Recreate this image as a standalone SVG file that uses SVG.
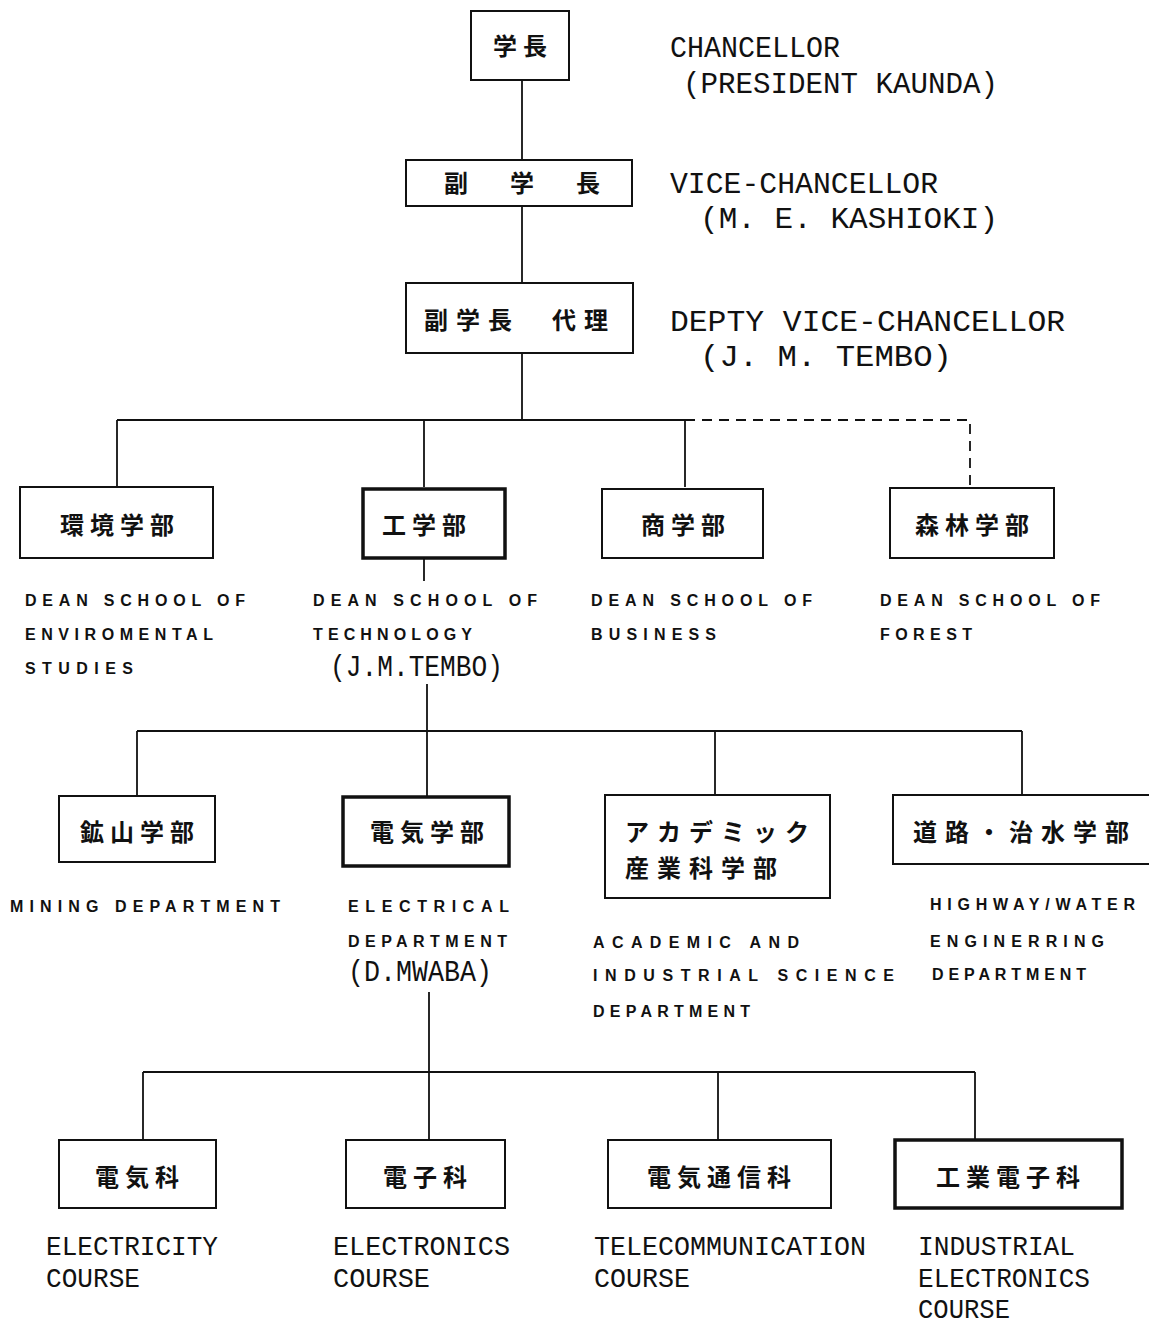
<svg xmlns="http://www.w3.org/2000/svg" width="1149" height="1327" viewBox="0 0 1149 1327">
<style>
.box{fill:#fff;stroke:#111;stroke-width:2}
.thick{fill:#fff;stroke:#111;stroke-width:3.5}
.ln{stroke:#111;stroke-width:1.8;fill:none}
.dash{stroke:#111;stroke-width:1.8;fill:none;stroke-dasharray:10,7}
.jp{font-family:"Noto Sans CJK JP","Noto Sans CJK SC",sans-serif;font-weight:bold;font-size:24px;fill:#111;text-anchor:middle;letter-spacing:6px}
.jpl{font-family:"Noto Sans CJK JP","Noto Sans CJK SC",sans-serif;font-weight:bold;font-size:24px;fill:#111;letter-spacing:8px}
.en{font-family:"Liberation Mono",monospace;font-size:30px;fill:#111}
.sm{font-family:"Liberation Sans",Arial,sans-serif;font-weight:bold;font-size:16px;fill:#111}
.nm{font-family:"Liberation Mono",monospace;font-size:30px;fill:#111}
.cr{font-family:"Liberation Mono",monospace;font-size:28px;fill:#111}
</style>
<rect width="1149" height="1327" fill="#fff"/>
<g id="connectors">
<line class="ln" x1="522" y1="80" x2="522" y2="160"/>
<line class="ln" x1="522" y1="206" x2="522" y2="283"/>
<line class="ln" x1="522" y1="353" x2="522" y2="420"/>
<line class="ln" x1="117" y1="420" x2="685" y2="420"/>
<path class="dash" d="M685 420 H970 V487"/>
<line class="ln" x1="117" y1="420" x2="117" y2="487"/>
<line class="ln" x1="424" y1="420" x2="424" y2="487"/>
<line class="ln" x1="685" y1="420" x2="685" y2="487"/>
<line class="ln" x1="424" y1="558" x2="424" y2="581"/>
<line class="ln" x1="427" y1="684" x2="427" y2="731"/>
<line class="ln" x1="137" y1="731" x2="1022" y2="731"/>
<line class="ln" x1="137" y1="731" x2="137" y2="796"/>
<line class="ln" x1="427" y1="731" x2="427" y2="796"/>
<line class="ln" x1="715" y1="731" x2="715" y2="795"/>
<line class="ln" x1="1022" y1="731" x2="1022" y2="795"/>
<line class="ln" x1="429" y1="992" x2="429" y2="1072"/>
<line class="ln" x1="143" y1="1072" x2="975" y2="1072"/>
<line class="ln" x1="143" y1="1072" x2="143" y2="1140"/>
<line class="ln" x1="429" y1="1072" x2="429" y2="1140"/>
<line class="ln" x1="718" y1="1072" x2="718" y2="1140"/>
<line class="ln" x1="975" y1="1072" x2="975" y2="1140"/>
</g>
<g id="chancellor">
<rect class="box" x="471" y="11" width="98" height="69"/>
<text class="jp" x="523" y="55">学長</text>
<text class="en" x="670" y="57" textLength="170" lengthAdjust="spacingAndGlyphs">CHANCELLOR</text>
<text class="en" x="683" y="93" textLength="315" lengthAdjust="spacingAndGlyphs">(PRESIDENT KAUNDA)</text>
</g>
<g id="vice-chancellor">
<rect class="box" x="406" y="160" width="226" height="46"/>
<text class="jpl" x="444" y="192" style="letter-spacing:42px">副学長</text>
<text class="en" x="670" y="193" textLength="268" lengthAdjust="spacingAndGlyphs">VICE-CHANCELLOR</text>
<text class="en" x="700" y="228" textLength="298" lengthAdjust="spacingAndGlyphs">(M. E. KASHIOKI)</text>
</g>
<g id="deputy">
<rect class="box" x="406" y="283" width="227" height="70"/>
<text class="jpl" x="424" y="329" letter-spacing="2">副学長　代理</text>
<text class="en" x="670" y="331" textLength="395" lengthAdjust="spacingAndGlyphs">DEPTY VICE-CHANCELLOR</text>
<text class="en" x="700" y="366" textLength="252" lengthAdjust="spacingAndGlyphs">(J. M. TEMBO)</text>
</g>
<g id="env">
<rect class="box" x="20" y="487" width="193" height="71"/>
<text class="jp" x="120" y="534">環境学部</text>
<text class="sm" x="25" y="606" textLength="220">DEAN SCHOOL OF</text>
<text class="sm" x="25" y="640" textLength="188">ENVIROMENTAL</text>
<text class="sm" x="25" y="674" textLength="108">STUDIES</text>
</g>
<g id="tech">
<rect class="thick" x="363" y="489" width="142" height="69"/>
<text class="jp" x="427" y="534">工学部</text>
<text class="sm" x="313" y="606" textLength="224">DEAN SCHOOL OF</text>
<text class="sm" x="313" y="640" textLength="159">TECHNOLOGY</text>
<text class="nm" x="330" y="676" textLength="173" lengthAdjust="spacingAndGlyphs">(J.M.TEMBO)</text>
</g>
<g id="business">
<rect class="box" x="602" y="489" width="161" height="69"/>
<text class="jp" x="686" y="534">商学部</text>
<text class="sm" x="591" y="606" textLength="221">DEAN SCHOOL OF</text>
<text class="sm" x="591" y="640" textLength="125">BUSINESS</text>
</g>
<g id="forest">
<rect class="box" x="890" y="488" width="164" height="70"/>
<text class="jp" x="975" y="534">森林学部</text>
<text class="sm" x="880" y="606" textLength="220">DEAN SCHOOL OF</text>
<text class="sm" x="880" y="640" textLength="92">FOREST</text>
</g>
<g id="mining">
<rect class="box" x="59" y="796" width="156" height="66"/>
<text class="jp" x="140" y="841">鉱山学部</text>
<text class="sm" x="10" y="912" textLength="270">MINING DEPARTMENT</text>
</g>
<g id="electrical">
<rect class="thick" x="343" y="797" width="166" height="69"/>
<text class="jp" x="430" y="841">電気学部</text>
<text class="sm" x="348" y="912" textLength="161">ELECTRICAL</text>
<text class="sm" x="348" y="947" textLength="159">DEPARTMENT</text>
<text class="nm" x="348" y="981" textLength="144" lengthAdjust="spacingAndGlyphs">(D.MWABA)</text>
</g>
<g id="academic">
<rect class="box" x="605" y="795" width="225" height="103"/>
<text class="jpl" x="625" y="841">アカデミック</text>
<text class="jpl" x="625" y="877">産業科学部</text>
<text class="sm" x="593" y="948" textLength="206">ACADEMIC  AND</text>
<text class="sm" x="593" y="981" textLength="301">INDUSTRIAL  SCIENCE</text>
<text class="sm" x="593" y="1017" textLength="157">DEPARTMENT</text>
</g>
<g id="highway">
<rect class="box" x="893" y="795" width="260" height="69"/>
<text class="jpl" x="913" y="841">道路・治水学部</text>
<text class="sm" x="930" y="910" textLength="205">HIGHWAY/WATER</text>
<text class="sm" x="930" y="947" textLength="174">ENGINERRING</text>
<text class="sm" x="932" y="980" textLength="154">DEPARTMENT</text>
</g>
<g id="electricity">
<rect class="box" x="59" y="1140" width="157" height="68"/>
<text class="jp" x="140" y="1186">電気科</text>
<text class="cr" x="46" y="1255" textLength="172" lengthAdjust="spacingAndGlyphs">ELECTRICITY</text>
<text class="cr" x="46" y="1287" textLength="94" lengthAdjust="spacingAndGlyphs">COURSE</text>
</g>
<g id="electronics">
<rect class="box" x="346" y="1140" width="159" height="68"/>
<text class="jp" x="428" y="1186">電子科</text>
<text class="cr" x="333" y="1255" textLength="177" lengthAdjust="spacingAndGlyphs">ELECTRONICS</text>
<text class="cr" x="333" y="1287" textLength="97" lengthAdjust="spacingAndGlyphs">COURSE</text>
</g>
<g id="telecom">
<rect class="box" x="608" y="1140" width="223" height="68"/>
<text class="jp" x="722" y="1186">電気通信科</text>
<text class="cr" x="594" y="1255" textLength="272" lengthAdjust="spacingAndGlyphs">TELECOMMUNICATION</text>
<text class="cr" x="594" y="1287" textLength="96" lengthAdjust="spacingAndGlyphs">COURSE</text>
</g>
<g id="indelec">
<rect class="thick" x="895" y="1140" width="227" height="68"/>
<text class="jp" x="1011" y="1186">工業電子科</text>
<text class="cr" x="918" y="1255" textLength="157" lengthAdjust="spacingAndGlyphs">INDUSTRIAL</text>
<text class="cr" x="918" y="1287" textLength="172" lengthAdjust="spacingAndGlyphs">ELECTRONICS</text>
<text class="cr" x="918" y="1318" textLength="92" lengthAdjust="spacingAndGlyphs">COURSE</text>
</g>
</svg>
